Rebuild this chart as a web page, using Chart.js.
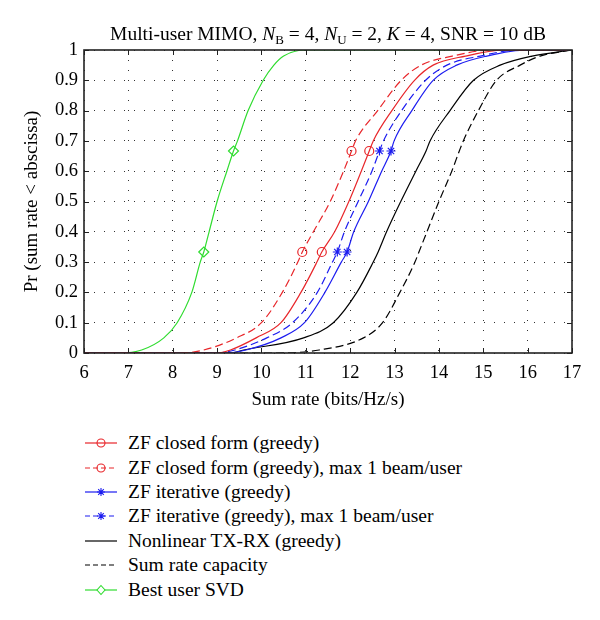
<!DOCTYPE html>
<html>
<head>
<meta charset="utf-8">
<script src="https://cdn.jsdelivr.net/npm/chart.js@4.4.1/dist/chart.umd.min.js"></script>
<style>
  html, body { margin: 0; padding: 0; background: #fff; }
  #wrap { position: relative; width: 600px; height: 620px; font-family: "Liberation Serif", "DejaVu Serif", serif; color: #000; }
  #chart { position: absolute; left: 0; top: 0; }
  #title { position: absolute; left: 60px; width: 536px; top: 23px; text-align: center; font-size: 19.5px; white-space: nowrap; }
  #title sub { font-size: 13px; vertical-align: -4px; line-height: 0; }
  #legend { position: absolute; left: 84px; top: 431px; font-size: 19.5px; }
  .row { height: 24.4px; display: flex; align-items: center; white-space: nowrap; }
  .row svg { width: 34px; height: 14px; margin-right: 10px; flex: none; }
</style>
</head>
<body>
<div id="wrap">
  <canvas id="chart" width="600" height="415"></canvas>
  <div id="title">Multi-user MIMO, <i>N</i><sub>B</sub> = 4, <i>N</i><sub>U</sub> = 2, <i>K</i> = 4, SNR = 10 dB</div>
  <div id="legend"></div>
</div>
<script>
// probability levels (y) shared by every curve
const levels = [0, 0.01, 0.05, 0.1, 0.2, 0.3, 1 / 3, 0.4, 0.5, 0.6, 2 / 3, 0.7, 0.8, 0.9, 0.95, 0.98, 1];
const markerLevels = [1 / 3, 2 / 3];

// sum rate (bits/Hz/s) reached at each level
const zfClosed     = [9.0, 9.3, 9.88, 10.44, 10.89, 11.25, 11.36, 11.65, 11.97, 12.25, 12.43, 12.52, 12.94, 13.45, 13.87, 14.6, 15.5];
const zfClosedMax1 = [8.2, 8.7, 9.44, 10.0, 10.47, 10.82, 10.92, 11.17, 11.55, 11.85, 12.03, 12.12, 12.62, 13.15, 13.6, 14.3, 15.2];
const zfIter       = [9.2, 9.65, 10.44, 10.97, 11.43, 11.8, 11.93, 12.08, 12.41, 12.71, 12.92, 12.99, 13.39, 13.87, 14.4, 15.08, 16.0];
const zfIterMax1   = [9.0, 9.4, 10.12, 10.7, 11.26, 11.6, 11.71, 11.87, 12.18, 12.49, 12.66, 12.75, 13.16, 13.7, 14.18, 14.93, 15.8];
const nonlinear    = [9.3, 9.6, 10.95, 11.62, 12.15, 12.52, 12.63, 12.82, 13.14, 13.48, 13.71, 13.8, 14.25, 14.78, 15.38, 16.1, 17.0];
const capacity     = [10.3, 11.3, 12.3, 12.73, 13.12, 13.46, 13.55, 13.73, 14.0, 14.29, 14.46, 14.55, 14.89, 15.3, 15.83, 16.28, 17.0];
const bestSvd      = [6.8, 7.3, 7.8, 8.1, 8.43, 8.62, 8.70, 8.82, 9.0, 9.22, 9.37, 9.46, 9.70, 10.04, 10.28, 10.5, 11.0];

const xMin = 6, xMax = 17;
const xTicks = [6, 7, 8, 9, 10, 11, 12, 13, 14, 15, 16, 17];
const yTicks = [0, 0.1, 0.2, 0.3, 0.4, 0.5, 0.6, 0.7, 0.8, 0.9, 1];

const RED = '#e8262a', BLUE = '#1c1cf0', GREEN = '#2fdc2f', BLACK = '#000';

const series = [
    { label: 'ZF closed form (greedy)', xs: zfClosed, color: RED, dash: [], marker: 'circle' },
    { label: 'ZF closed form (greedy), max 1 beam/user', xs: zfClosedMax1, color: RED, dash: [8, 4], marker: 'circle' },
    { label: 'ZF iterative (greedy)', xs: zfIter, color: BLUE, dash: [], marker: 'star' },
    { label: 'ZF iterative (greedy), max 1 beam/user', xs: zfIterMax1, color: BLUE, dash: [8, 4], marker: 'star' },
    { label: 'Nonlinear TX-RX (greedy)', xs: nonlinear, color: BLACK, dash: [], marker: null },
    { label: 'Sum rate capacity', xs: capacity, color: BLACK, dash: [8, 4], marker: null },
    { label: 'Best user SVD', xs: bestSvd, color: GREEN, dash: [], marker: 'rectRot' }
];

function buildPoints(xs) {
    const pts = xs.map((x, i) => ({ x: x, y: levels[i] }));
    if (pts[0].x > xMin) pts.unshift({ x: xMin, y: 0 });
    if (pts[pts.length - 1].x < xMax) pts.push({ x: xMax, y: 1 });
    return pts;
}

const datasets = series.map(s => ({
    label: s.label,
    data: buildPoints(s.xs),
    borderColor: s.color,
    borderWidth: 1.2,
    borderDash: s.dash,
    cubicInterpolationMode: 'monotone',
    fill: false,
    pointStyle: s.marker || 'circle',
    pointRadius: ctx => (s.marker && ctx.raw && markerLevels.includes(ctx.raw.y)) ? (s.marker === 'rectRot' ? 5 : 4.5) : 0,
    pointBorderColor: s.color,
    pointBackgroundColor: 'rgba(0,0,0,0)',
    pointBorderWidth: 1.2,
    pointHoverRadius: 0
}));

// frame + inward tick marks, matlab style
const framePlugin = {
    id: 'frame',
    afterDatasetsDraw(chart) {
        const { ctx, chartArea: a, scales } = chart;
        ctx.save();
        ctx.strokeStyle = '#222';
        ctx.lineWidth = 1;
        ctx.beginPath();
        xTicks.forEach(v => {
            const px = Math.round(scales.x.getPixelForValue(v)) + 0.5;
            ctx.moveTo(px, a.bottom); ctx.lineTo(px, a.bottom - 5);
            ctx.moveTo(px, a.top); ctx.lineTo(px, a.top + 5);
        });
        yTicks.forEach(v => {
            const py = Math.round(scales.y.getPixelForValue(v)) + 0.5;
            ctx.moveTo(a.left, py); ctx.lineTo(a.left + 5, py);
            ctx.moveTo(a.right, py); ctx.lineTo(a.right - 5, py);
        });
        ctx.stroke();
        ctx.lineWidth = 1.6;
        ctx.strokeRect(a.left, a.top, a.right - a.left, a.bottom - a.top);
        ctx.restore();
    }
};

const tickFont = { family: '"Liberation Serif", serif', size: 18.5 };
const titleFont = { family: '"Liberation Serif", serif', size: 19 };

new Chart(document.getElementById('chart'), {
    type: 'line',
    data: { datasets: datasets },
    options: {
        responsive: false,
        animation: false,
        events: [],
        layout: { padding: { left: 0, right: 28, top: 50, bottom: 0 } },
        plugins: { legend: { display: false }, tooltip: { enabled: false } },
        scales: {
            x: {
                type: 'linear',
                min: xMin,
                max: xMax,
                afterBuildTicks: s => { s.ticks = xTicks.map(v => ({ value: v })); },
                afterFit: s => { s.height = 62; },
                ticks: { color: '#000', font: tickFont, padding: 9, maxRotation: 0, callback: v => String(v) },
                grid: { color: '#333', lineWidth: 1, drawTicks: false },
                border: { display: false, dash: [1, 9] },
                title: { display: true, text: 'Sum rate (bits/Hz/s)', color: '#000', font: titleFont, padding: { top: 0, bottom: 4 } }
            },
            y: {
                type: 'linear',
                min: 0,
                max: 1,
                afterBuildTicks: s => { s.ticks = yTicks.map(v => ({ value: v })); },
                afterFit: s => { s.width = 84; },
                ticks: { color: '#000', font: tickFont, padding: 6, callback: v => String(Math.round(v * 10) / 10) },
                grid: { color: '#333', lineWidth: 1, drawTicks: false },
                border: { display: false, dash: [1, 9] },
                title: { display: true, text: 'Pr (sum rate < abscissa)', color: '#000', font: titleFont, padding: { top: 21, bottom: 0 } }
            }
        }
    },
    plugins: [framePlugin]
});

// legend below the plot
function sampleSvg(s) {
    const dash = s.dash.length ? 'stroke-dasharray="5 3"' : '';
    let m = '';
    if (s.marker === 'circle') {
        m = `<circle cx="17" cy="7" r="4" fill="none" stroke="${s.color}" stroke-width="1.1"/>`;
    } else if (s.marker === 'star') {
        m = `<path d="M17 3v8M13 7h8M14.2 4.2l5.6 5.6M19.8 4.2l-5.6 5.6" stroke="${s.color}" stroke-width="1.1"/>`;
    } else if (s.marker === 'rectRot') {
        m = `<path d="M17 2.5L21 7L17 11.5L13 7Z" fill="#fff" stroke="${s.color}" stroke-width="1.1"/>`;
    }
    return `<svg viewBox="0 0 34 14"><line x1="1" y1="7" x2="33" y2="7" stroke="${s.color}" stroke-width="1.2" ${dash}/>${m}</svg>`;
}

const legendEl = document.getElementById('legend');
series.forEach(s => {
    const row = document.createElement('div');
    row.className = 'row';
    row.innerHTML = sampleSvg(s);
    const span = document.createElement('span');
    span.textContent = s.label;
    row.appendChild(span);
    legendEl.appendChild(row);
});
</script>
</body>
</html>
